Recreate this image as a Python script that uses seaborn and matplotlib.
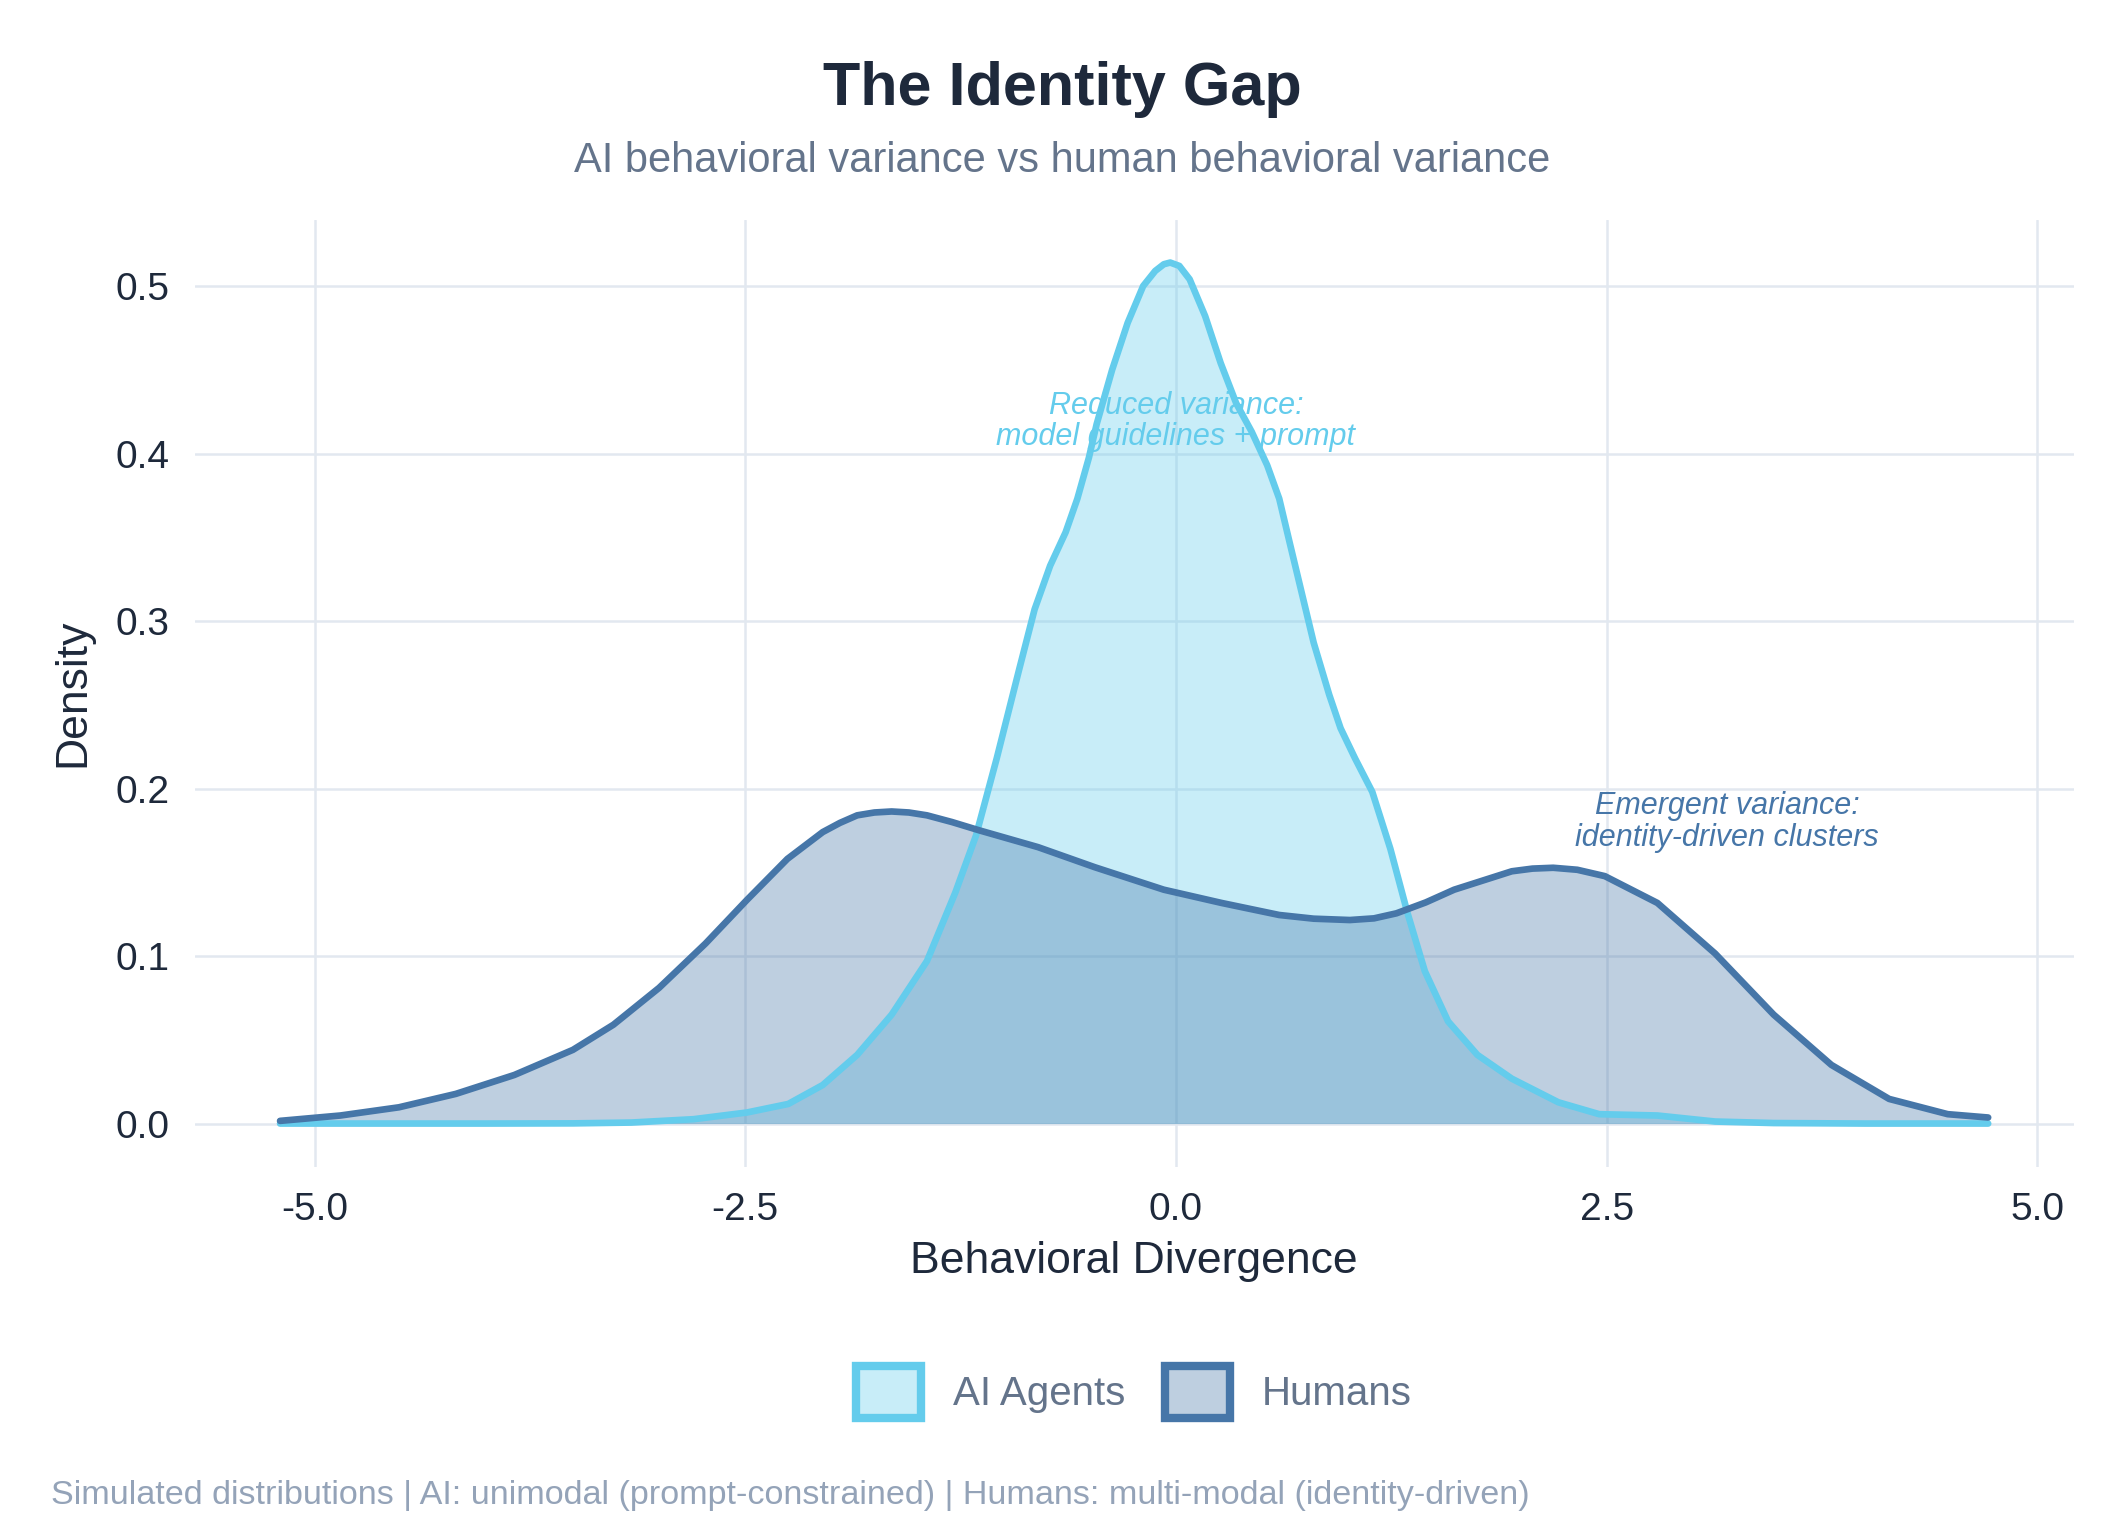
import matplotlib
matplotlib.use("Agg")
import matplotlib.pyplot as plt
from matplotlib.patches import Patch
from matplotlib.colors import to_rgba
import pandas as pd
import seaborn as sns

# density curves
ai_x = [-5.2, -4.0, -3.5, -3.16, -2.8, -2.49, -2.25, -2.05, -1.85, -1.65, -1.445,
        -1.28, -1.16, -1.04, -0.91, -0.82, -0.73, -0.64, -0.572, -0.505, -0.46,
        -0.37, -0.28, -0.19, -0.12, -0.07, -0.033, 0.02, 0.08, 0.17, 0.26, 0.35, 0.44, 0.53,
        0.60, 0.66, 0.73, 0.80, 0.89, 0.956, 1.04, 1.14, 1.245, 1.345, 1.445,
        1.58, 1.75, 1.95, 2.22, 2.457, 2.795, 3.13, 3.47, 4.0, 4.715]
ai_y = [0.0, 0.0, 0.0001, 0.0006, 0.0026, 0.0066, 0.0117, 0.023, 0.041, 0.065, 0.097,
        0.138, 0.172, 0.218, 0.271, 0.307, 0.333, 0.353, 0.373, 0.3975, 0.4175,
        0.450, 0.478, 0.500, 0.509, 0.513, 0.514, 0.512, 0.504, 0.482, 0.454, 0.430, 0.413, 0.393,
        0.373, 0.347, 0.317, 0.287, 0.256, 0.236, 0.218, 0.198, 0.164, 0.1255, 0.091,
        0.061, 0.041, 0.0268, 0.0127, 0.0056, 0.0048, 0.0012, 0.0003, 0.0, 0.0]

hu_x = [-5.2, -4.85, -4.51, -4.18, -3.84, -3.5, -3.265, -3.0, -2.73, -2.49, -2.255,
        -2.05, -1.95, -1.85, -1.75, -1.65, -1.55, -1.445, -1.3, -1.14, -0.8, -0.47, -0.07,
        0.265, 0.6, 0.8, 1.01, 1.15, 1.28, 1.45, 1.615, 1.95, 2.07, 2.19, 2.33, 2.49, 2.795,
        3.13, 3.47, 3.805, 4.14, 4.48, 4.715]
hu_y = [0.0016, 0.0048, 0.0097, 0.0177, 0.029, 0.044, 0.059, 0.081, 0.1075, 0.1335, 0.158,
        0.174, 0.1795, 0.184, 0.1857, 0.1863, 0.1857, 0.184, 0.180, 0.175, 0.165, 0.153, 0.1396,
        0.1317, 0.1245, 0.1223, 0.1215, 0.1225, 0.1255, 0.132, 0.1396, 0.1506, 0.1522, 0.1527,
        0.1515, 0.1477, 0.1317, 0.1015, 0.065, 0.035, 0.0147, 0.0056, 0.0036]

groups = ["AI Agents", "Humans"]
colors = {"AI Agents": "#64ccec", "Humans": "#4676a8"}

df = pd.concat([
    pd.DataFrame({"x": ai_x, "density": ai_y, "group": "AI Agents"}),
    pd.DataFrame({"x": hu_x, "density": hu_y, "group": "Humans"}),
])

sns.set_theme(style="whitegrid")
plt.rcParams["font.family"] = ["Liberation Sans", "DejaVu Sans"]

fig = plt.figure(figsize=(10.625, 7.675), dpi=200)
ax = fig.add_axes([0.0916, 0.24, 0.8842, 0.617])

for g in groups:
    sub = df[df["group"] == g]
    ax.fill_between(sub["x"], sub["density"], color=colors[g], alpha=0.35, lw=0)
    sns.lineplot(data=sub, x="x", y="density", color=colors[g], lw=2.4, ax=ax,
                 sort=True, estimator=None, solid_joinstyle="round")

ax.grid(True, color="#e2e8f0", lw=0.9)
ax.set_axisbelow(True)
for s in ax.spines.values():
    s.set_visible(False)
ax.tick_params(axis="both", length=0, labelsize=14, labelcolor="#1e293b", pad=9)
ax.set_xticks([-5.0, -2.5, 0.0, 2.5, 5.0])
ax.set_xticklabels(["-5.0", "-2.5", "0.0", "2.5", "5.0"])
ax.set_yticks([0.0, 0.1, 0.2, 0.3, 0.4, 0.5])
ax.set_xlabel("Behavioral Divergence", fontsize=16, color="#1e293b", labelpad=5)
ax.set_ylabel("Density", fontsize=16, color="#1e293b", labelpad=8)

ax.text(0.0, 0.419, "Reduced variance:\nmodel guidelines + prompt", ha="center", va="center",
        fontsize=11, style="italic", color=colors["AI Agents"], linespacing=1.05)
ax.text(3.2, 0.180, "Emergent variance:\nidentity-driven clusters", ha="center", va="center",
        fontsize=11, style="italic", color=colors["Humans"], linespacing=1.05)

fig.text(0.5, 0.942, "The Identity Gap", ha="center", va="center", fontsize=22,
         fontweight="bold", color="#1e293b")
fig.text(0.5, 0.895, "AI behavioral variance vs human behavioral variance", ha="center",
         va="center", fontsize=15, color="#64748b")
fig.text(0.024, 0.026, "Simulated distributions | AI: unimodal (prompt-constrained) | Humans: multi-modal (identity-driven)",
         ha="left", va="center", fontsize=12.3, color="#94a3b8")

handles = [Patch(facecolor=to_rgba(colors[g], 0.35), edgecolor=colors[g], lw=3, label=g)
           for g in groups]
leg = ax.legend(handles=handles, loc="center", bbox_to_anchor=(0.5, -0.238), ncol=2,
                frameon=False, fontsize=14.5, handlelength=1.6, handleheight=1.6,
                columnspacing=1.0, handletextpad=0.8)
for t in leg.get_texts():
    t.set_color("#64748b")

fig.savefig("out.png", dpi=200)
